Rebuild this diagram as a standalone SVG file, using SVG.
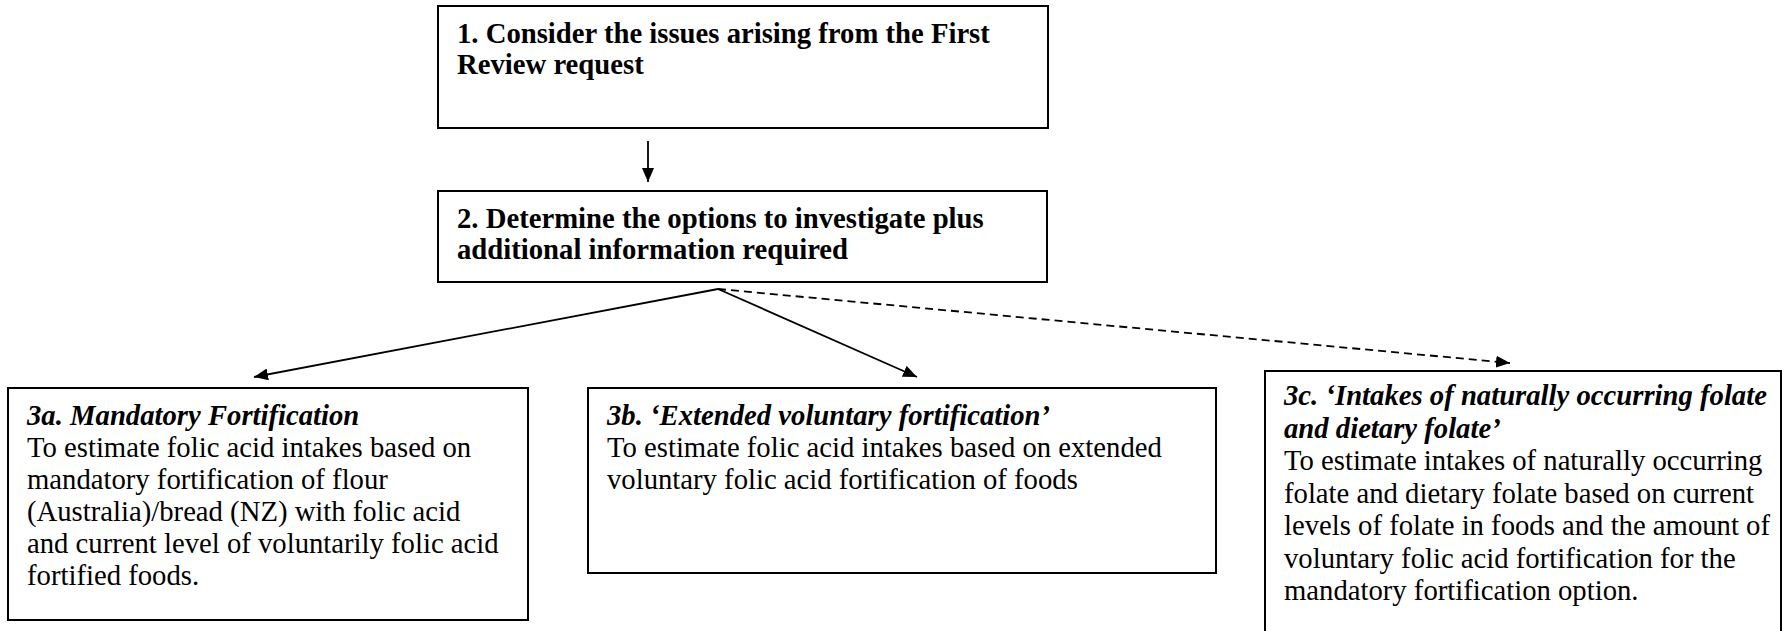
<svg xmlns="http://www.w3.org/2000/svg" width="1782" height="631" viewBox="0 0 1782 631">
<style>
.box{fill:#fff;stroke:#000;stroke-width:2}
.t{font-family:"Liberation Serif","Times New Roman",serif;font-size:28.7px;fill:#000}
.b{font-weight:bold}
.bi{font-weight:bold;font-style:italic}
.ln{stroke:#000;stroke-width:1.8;fill:none}
.dash{stroke-dasharray:8 5}
</style>
<defs>
<marker id="ah" viewBox="0 0 14 12" refX="14" refY="6" markerWidth="14" markerHeight="12" markerUnits="userSpaceOnUse" orient="auto">
<path d="M0,0 L14,6 L0,12 Z" fill="#000"/>
</marker>
</defs>
<rect width="1782" height="631" fill="#fff"/>
<g id="n1">
<rect class="box" x="438" y="6" width="610" height="122"/>
<text class="t b" x="457" y="43">1. Consider the issues arising from the First</text>
<text class="t b" x="457" y="74">Review request</text>
</g>
<g id="n2">
<rect class="box" x="438" y="191" width="609" height="91"/>
<text class="t b" x="457" y="228">2. Determine the options to investigate plus</text>
<text class="t b" x="457" y="259">additional information required</text>
</g>
<g id="n3a">
<rect class="box" x="8" y="388" width="520" height="232"/>
<text class="t bi" x="27" y="425">3a. Mandatory Fortification</text>
<text class="t" x="27" y="457">To estimate folic acid intakes based on</text>
<text class="t" x="27" y="489">mandatory fortification of flour</text>
<text class="t" x="27" y="521">(Australia)/bread (NZ) with folic acid</text>
<text class="t" x="27" y="553">and current level of voluntarily folic acid</text>
<text class="t" x="27" y="585">fortified foods.</text>
</g>
<g id="n3b">
<rect class="box" x="588" y="388" width="628" height="185"/>
<text class="t bi" x="607" y="425">3b. ‘Extended voluntary fortification’</text>
<text class="t" x="607" y="457">To estimate folic acid intakes based on extended</text>
<text class="t" x="607" y="489">voluntary folic acid fortification of foods</text>
</g>
<g id="n3c">
<rect class="box" x="1265" y="371" width="516" height="270"/>
<text class="t bi" x="1284" y="405">3c. ‘Intakes of naturally occurring folate</text>
<text class="t bi" x="1284" y="438">and dietary folate’</text>
<text class="t" x="1284" y="470">To estimate intakes of naturally occurring</text>
<text class="t" x="1284" y="503">folate and dietary folate based on current</text>
<text class="t" x="1284" y="535">levels of folate in foods and the amount of</text>
<text class="t" x="1284" y="568">voluntary folic acid fortification for the</text>
<text class="t" x="1284" y="600">mandatory fortification option.</text>
</g>
<g id="connectors">
<line class="ln" x1="648" y1="141" x2="648" y2="182" marker-end="url(#ah)"/>
<line class="ln" x1="718" y1="289" x2="254" y2="377" marker-end="url(#ah)"/>
<line class="ln" x1="718" y1="289" x2="917" y2="377" marker-end="url(#ah)"/>
<line class="ln dash" x1="718" y1="289" x2="1510" y2="363" marker-end="url(#ah)"/>
</g>
</svg>
